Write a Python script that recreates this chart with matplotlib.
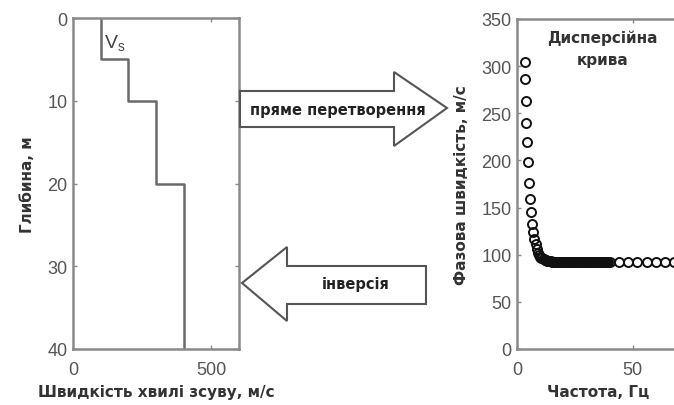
import matplotlib
matplotlib.use("Agg")
import matplotlib.pyplot as plt
from matplotlib.patches import Polygon

plt.rcParams['font.family'] = ['Liberation Sans', 'DejaVu Sans']
BOLD = ['DejaVu Sans']

# ---- data ----
depth_top = [0, 5, 10, 20]
depth_bot = [5, 10, 20, 40]
vs_layers = [100, 200, 300, 400]

freq = [3.4, 3.6, 3.9, 4.1, 4.4, 4.7, 5.1, 5.5, 6.0, 6.5, 7.0, 7.5, 8.0, 8.5,
        9.0, 9.5, 10.0, 10.5, 11.0, 11.5, 12.0, 12.5, 13.0, 13.5, 14.0, 14.5,
        15.0, 15.5, 16.0, 16.5, 17.0, 17.5, 18.0, 18.5, 19.0, 19.5, 20.0,
        20.5, 21.0, 21.5, 22.0, 22.5, 23.0, 23.5, 24.0, 24.5, 25.0, 25.5,
        26.0, 26.5, 27.0, 27.5, 28.0, 28.5, 29.0, 29.5, 30.0, 30.5, 31.0,
        31.5, 32.0, 32.5, 33.0, 33.5, 34.0, 34.5, 35.0, 35.5, 36.0, 36.5,
        37.0, 37.5, 38.0, 38.5, 39.0, 39.5, 40.0,
        44.0, 48.0, 52.0, 56.0, 60.0, 64.0, 68.0]
vphase = [304, 286, 263, 240, 220, 198, 176, 159, 145, 133, 124, 117, 111, 106,
          102, 100, 98, 97, 96, 95.2, 94.5, 94, 93.5, 93.2, 93, 92.9,
          92.8, 92.7, 92.6, 92.6, 92.5, 92.5, 92.4, 92.4, 92.3, 92.3, 92.2,
          92.2, 92.2, 92.2, 92.1, 92.1, 92.1, 92.1, 92, 92, 92, 92,
          92, 92, 92, 92, 92, 92, 92, 92, 92, 92, 92,
          92, 92, 92, 92, 92, 92, 92, 92, 92, 92, 92,
          92, 92, 92, 92, 92, 92, 92,
          92, 92, 92, 92, 92, 92, 92]

left_xticks = [0, 500]
left_yticks = [0, 10, 20, 30, 40]
right_xticks = [0, 50]
right_yticks = [0, 50, 100, 150, 200, 250, 300, 350]

W, H = 674, 406
fig = plt.figure(figsize=(W / 100, H / 100), dpi=100)

def px_axes(x0, y0, x1, y1):
    return fig.add_axes([x0 / W, 1 - y1 / H, (x1 - x0) / W, (y1 - y0) / H])

spine_c = '#8a8a8a'
tick_c = '#555555'
lab_c = '#333333'

def style(ax):
    for s in ax.spines.values():
        s.set_color(spine_c)
        s.set_linewidth(1.8)
    ax.tick_params(direction='in', length=3, width=1, color=spine_c,
                   labelcolor=tick_c, labelsize=13, pad=4,
                   top=True, right=True)
    ax.tick_params(axis='x', pad=9)

lab_kw = dict(fontsize=11, fontweight='bold', color=lab_c, family=BOLD)

# ---- left: Vs profile ----
ax1 = px_axes(73, 19, 239, 350)
xs, ys = [], []
for v, t, b in zip(vs_layers, depth_top, depth_bot):
    xs += [v, v]
    ys += [t, b]
ax1.plot(xs, ys, color='#6a6a6a', lw=1.8)
ax1.set_xlim(0, 600)
ax1.set_ylim(40, 0)
ax1.set_xticks(left_xticks)
ax1.set_yticks(left_yticks)
style(ax1)
ax1.text(150, 3.0, r'V$_\mathregular{s}$', fontsize=14, color='#444444',
         ha='center', va='center')
ax1.set_xlabel('Швидкість хвилі зсуву, м/с', labelpad=4, **lab_kw)
ax1.set_ylabel('Глибина, м', labelpad=9, **lab_kw)

# ---- right: dispersion curve ----
ax2 = px_axes(517, 20, 679, 350)
ax2.plot(freq, vphase, linestyle='none', marker='o', markersize=6.5,
         markerfacecolor='none', markeredgecolor='#111111', markeredgewidth=1.4,
         clip_on=False)
ax2.set_xlim(0, 70)
ax2.set_ylim(0, 350)
ax2.set_xticks(right_xticks)
ax2.set_yticks(right_yticks)
style(ax2)
ax2.text(37, 319, 'Дисперсійна\nкрива', ha='center', va='center',
         linespacing=1.6, **lab_kw)
ax2.set_xlabel('Частота, Гц', labelpad=4, **lab_kw)
ax2.set_ylabel('Фазова швидкість, м/с', labelpad=9, **lab_kw)

# ---- arrows (figure pixel coords) ----
def fp(pts):
    return [(x / W, 1 - y / H) for x, y in pts]

top_arrow = [(240, 92), (394, 92), (394, 73), (447, 109), (394, 147),
             (394, 128), (240, 128)]
bot_arrow = [(242, 284), (287, 248), (287, 267), (426, 267), (426, 305),
             (287, 305), (287, 322)]
for pts in (top_arrow, bot_arrow):
    fig.patches.append(Polygon(fp(pts), closed=True, transform=fig.transFigure,
                               facecolor='white', edgecolor='#555555', lw=1.5))

fig.text(338 / W, 1 - 110 / H, 'пряме перетворення', fontsize=10.5,
         fontweight='bold', color='#222222', ha='center', va='center',
         family=BOLD)
fig.text(356 / W, 1 - 285 / H, 'інверсія', fontsize=10.5,
         fontweight='bold', color='#222222', ha='center', va='center',
         family=BOLD)

fig.savefig('out.png', dpi=100)
